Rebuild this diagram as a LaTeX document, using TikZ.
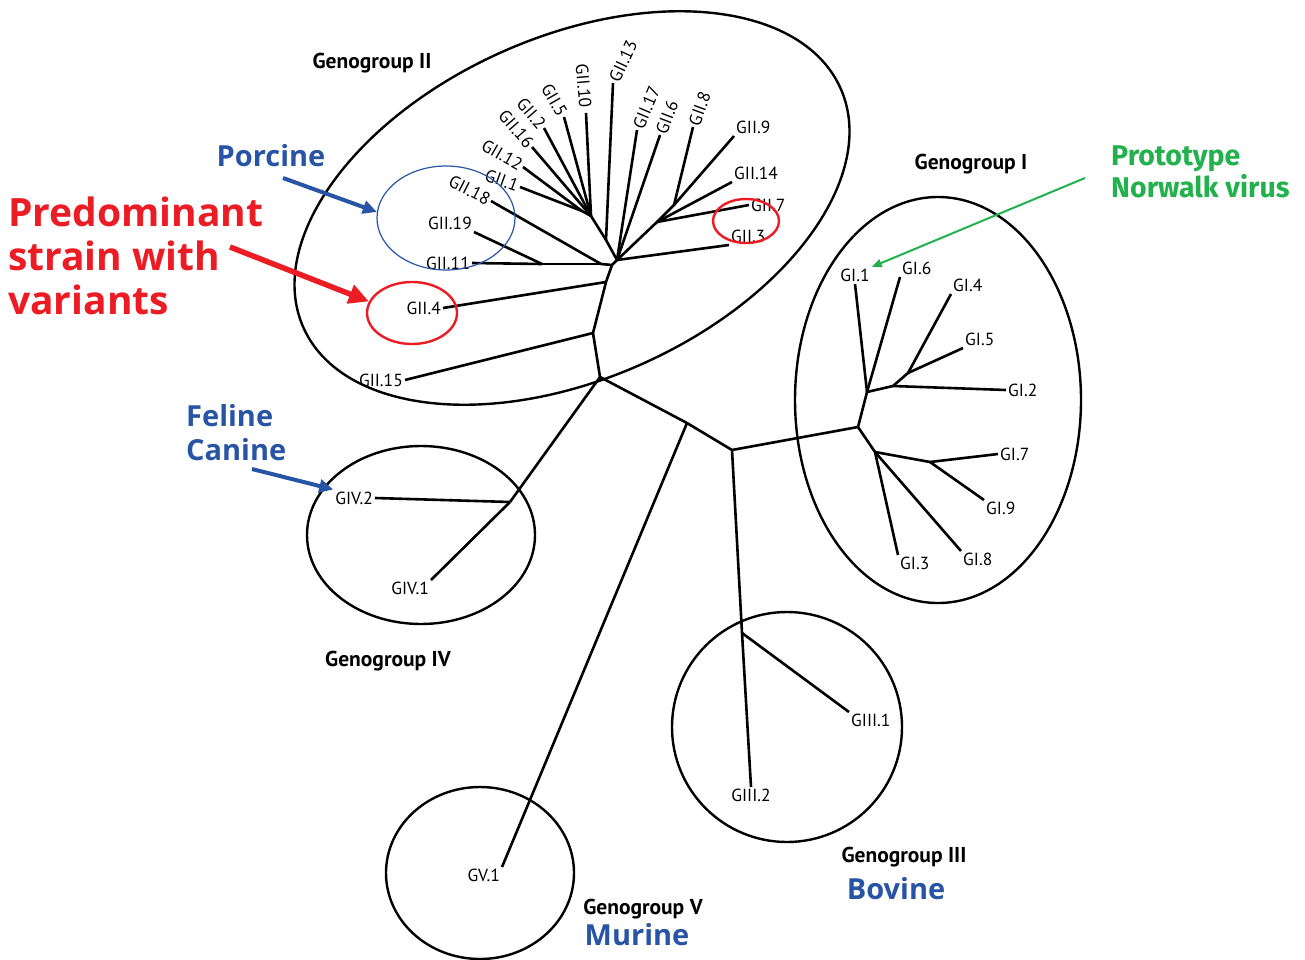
\documentclass[tikz,border=0pt]{standalone}
\usepackage{fontspec}
\setmainfont{PT Sans}
\newfontfamily\notefont{Open Sans}
\newfontfamily\protofont{Fira Sans}
\usetikzlibrary{arrows.meta,shapes.geometric}

\definecolor{hostblue}{RGB}{40,84,165}
\definecolor{strainred}{RGB}{236,28,36}
\definecolor{protogreen}{RGB}{34,177,76}

\tikzset{
  branch/.style={line width=2.6pt, line join=round},
  leaf/.style={inner sep=2pt, font=\fontsize{17.5}{19}\selectfont},
  group/.style={inner sep=0pt, font=\bfseries\fontsize{21.5}{24}\selectfont},
  host/.style={inner sep=0pt, text=hostblue, align=left,
    font=\notefont\bfseries\fontsize{29}{34}\selectfont},
  hilite/.style={ellipse, draw=strainred, line width=2.4pt, inner sep=0pt},
  pointer/.style={-{Triangle[length=14pt,width=13pt]}, line width=4pt},
}

\begin{document}
\begin{tikzpicture}[x=1pt, y=-1pt]
\useasboundingbox (0,0) rectangle (1305,960);
% ---- genogroup outlines ----
\draw[line width=2.4pt, rotate around={24:(572,208)}]
  (572,208) ellipse [x radius=294, y radius=171];
\draw[line width=2.4pt] (938,400) ellipse [x radius=143, y radius=203];
\draw[line width=2.4pt] (421,535) ellipse [x radius=114, y radius=89];
\draw[line width=2.4pt] (787,727) ellipse [x radius=115, y radius=115];
\draw[line width=2.4pt] (480,873) ellipse [x radius=94, y radius=86];

% ---- inner forks ----
\coordinate (h2) at (617,260);  \coordinate (hb) at (612,265);
\coordinate (a)  at (606,240);  \coordinate (b)  at (591,216);
\coordinate (c)  at (582,211);  \coordinate (d)  at (601,264);
\coordinate (e)  at (542,264);  \coordinate (f)  at (674,205);
\coordinate (g)  at (657,222);  \coordinate (p1) at (606,282);
\coordinate (p2) at (593,333);  \coordinate (r)  at (600,377);
\coordinate (j)  at (687,423);  \coordinate (k)  at (732,450);
\coordinate (q)  at (510,502);  \coordinate (t)  at (742,633);
\coordinate (x)  at (858,427);  \coordinate (u)  at (867,392);
\coordinate (v)  at (893,386);  \coordinate (w)  at (908,373);
\coordinate (l)  at (875,452);  \coordinate (m)  at (930,462);

% ---- leaves: genogroup II ----
\node[leaf, anchor=east] (gii15) at (405,380) {GII.15};
\node[leaf, anchor=east] (gii4) at (443,308) {GII.4};
\node[leaf, anchor=east] (gii11) at (472,263) {GII.11};
\node[leaf, anchor=south east] (gii19) at (474,232) {GII.19};
\node[leaf, anchor=east, rotate=-27] (gii18) at (491,201) {GII.18};
\node[leaf, anchor=east, rotate=-20] (gii1) at (520,187) {GII.1};
\node[leaf, anchor=east, rotate=-30] (gii12) at (523,167) {GII.12};
\node[leaf, anchor=east, rotate=-49] (gii16) at (532,147) {GII.16};
\node[leaf, anchor=east, rotate=-49] (gii2) at (544,128) {GII.2};
\node[leaf, anchor=east, rotate=-60] (gii5) at (564,117) {GII.5};
\node[leaf, anchor=east, rotate=-85, inner sep=5pt] (gii10) at (586,113) {GII.10};
\node[leaf, anchor=west, rotate=65] (gii13) at (613,83) {GII.13};
\node[leaf, anchor=west, rotate=67] (gii17) at (637,130) {GII.17};
\node[leaf, anchor=west, rotate=69] (gii6) at (660,135) {GII.6};
\node[leaf, anchor=west, rotate=70] (gii8) at (693,127) {GII.8};
\node[leaf, anchor=south west] (gii9) at (734,136) {GII.9};
\node[leaf, anchor=south west] (gii14) at (732,182) {GII.14};
\node[leaf, anchor=west] (gii7) at (749,205) {GII.7};
\node[leaf, anchor=south west] (gii3) at (729,245) {GII.3};
% ---- leaves: genogroups I, III, IV, V ----
\node[leaf, anchor=south] (gi1) at (855,284) {GI.1};
\node[leaf, anchor=south west] (gi6) at (900,277) {GI.6};
\node[leaf, anchor=south west] (gi4) at (951,294) {GI.4};
\node[leaf, anchor=south west] (gi5) at (963,348) {GI.5};
\node[leaf, anchor=west] (gi2) at (1006,390) {GI.2};
\node[leaf, anchor=west] (gi7) at (998,454) {GI.7};
\node[leaf, anchor=north west] (gi9) at (984,500) {GI.9};
\node[leaf, anchor=north west] (gi8) at (961,551) {GI.8};
\node[leaf, anchor=north west] (gi3) at (898,555) {GI.3};
\node[leaf, anchor=north west] (giii1) at (849,712) {GIII.1};
\node[leaf, anchor=north] (giii2) at (751,787) {GIII.2};
\node[leaf, anchor=east] (giv2) at (375,498) {GIV.2};
\node[leaf, anchor=north east] (giv1) at (431,580) {GIV.1};
\node[leaf, anchor=north east] (gv1) at (502,867) {GV.1};

% ---- branches ----
\foreach \s/\t in {r/q, q/giv2.east, q/giv1.north east,
    r/j, j/k, j/gv1.north east, k/t, t/giii2.north, t/giii1.north west,
    k/x, x/u, x/l, u/gi1.south, u/gi6.south west, u/v, v/gi2.west,
    v/w, w/gi4.south west, w/gi5.south west, l/gi3.north west,
    l/gi8.north west, l/m, m/gi7.west, m/gi9.north west}
  \draw[branch] (\s) -- (\t);
\foreach \s/\t in {hb/h2, hb/p1, p1/p2, p2/r, p1/gii4.east, p2/gii15.east,
    hb/d, d/e, e/gii11.east, e/gii19.south east, d/gii18.east,
    h2/a, a/b, b/c, a/gii13.west, b/gii10.east, b/gii5.east, b/gii2.east,
    b/gii16.east, c/gii12.east, c/gii1.east, h2/gii17.west, h2/gii6.west,
    h2/gii3.south west, h2/g, g/gii7.west, g/gii14.south west, g/f,
    f/gii8.west, f/gii9.south west}
  \draw[branch] (\s) -- (\t);

% ---- highlight rings ----
\node[ellipse, draw=hostblue, line width=1.2pt, minimum width=138pt,
  minimum height=104pt] (porcring) at (446,218) {};
\node[hilite, minimum width=90pt, minimum height=62pt] (g4ring) at (412,313) {};
\node[hilite, minimum width=66pt, minimum height=44pt] (g37ring) at (746,221) {};

% ---- group names ----
\node[group] (ngii) at (372,63) {Genogroup II};
\node[group] (ngi) at (971,164) {Genogroup I};
\node[group] (ngiv) at (388,661) {Genogroup IV};
\node[group] (ngiii) at (904,857) {Genogroup III};
\node[group] (ngv) at (643,909) {Genogroup V};

% ---- hosts and notes ----
\node[host] (porcine) at (271,156) {Porcine};
\node[host, anchor=north west] (feline) at (186,404) {Feline\\Canine};
\node[host] (bovine) at (896,889) {Bovine};
\node[host] (murine) at (637,935) {Murine};
\node[host, text=strainred, anchor=north west,
  font=\notefont\bfseries\fontsize{39}{44}\selectfont] (strain) at (8,197)
  {Predominant\\strain with\\variants};
\node[host, text=protogreen, anchor=north west,
  font=\protofont\bfseries\fontsize{28.5}{32}\selectfont] (proto) at (1111,146)
  {Prototype\\Norwalk virus};

% ---- pointers ----
\coordinate (porctail) at (283,178);
\coordinate (straintail) at (230,247);
\coordinate (felinetail) at (252,469);
\coordinate (prototail) at (1085,178);
\draw[pointer, hostblue] (porctail) -- (porcring.175);
\draw[pointer, strainred, line width=5.5pt,
  -{Triangle[length=20pt,width=19pt]}] (straintail) -- (g4ring.165);
\draw[pointer, hostblue] (felinetail) -- (giv2.north west);
\draw[protogreen, line width=2pt, -{Triangle[length=10pt,width=8pt]}]
  (prototail) -- (gi1.north east);
\end{tikzpicture}
\end{document}
